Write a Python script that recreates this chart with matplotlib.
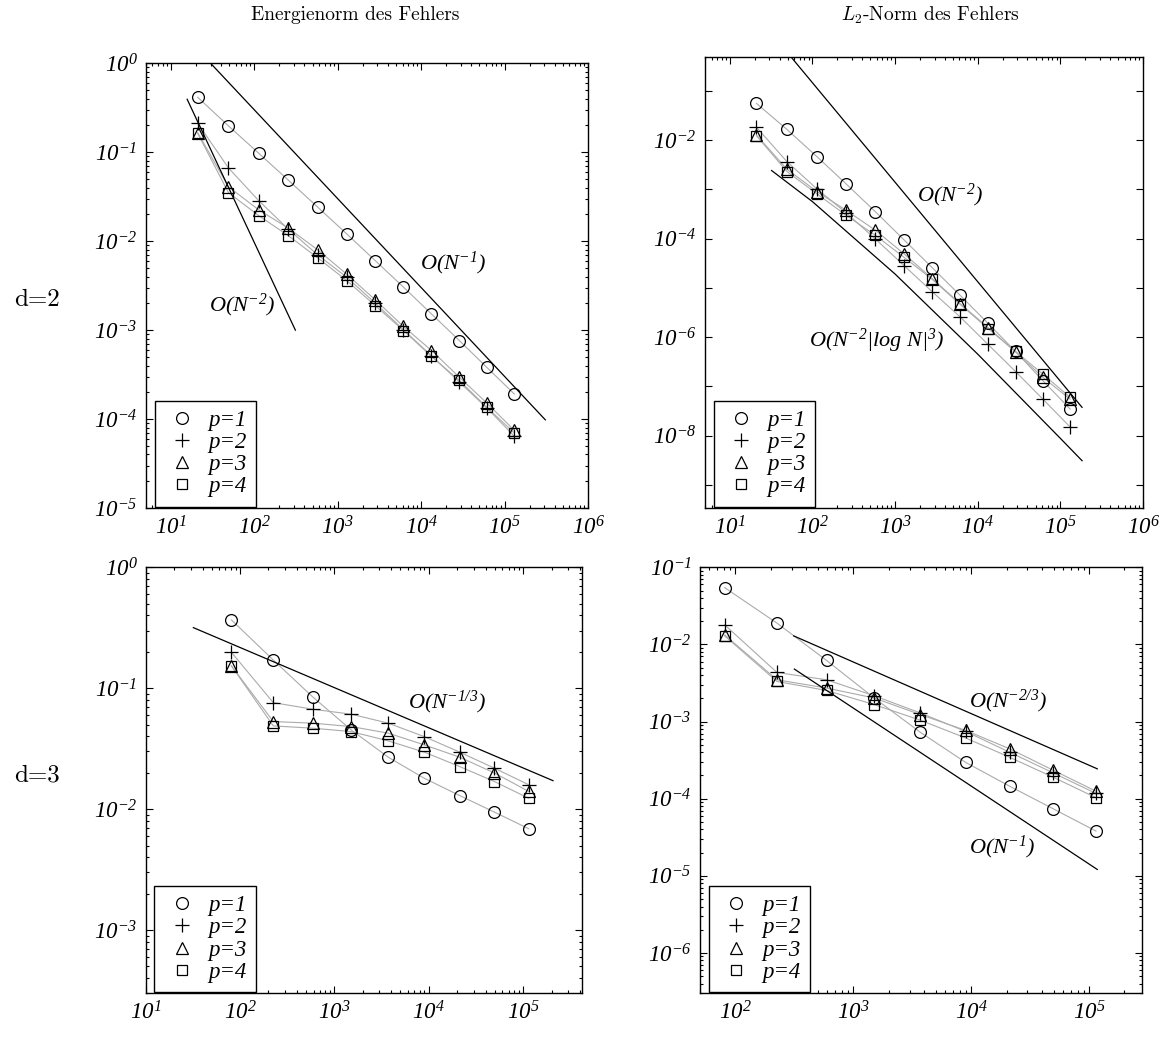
import matplotlib
matplotlib.use("Agg")
import matplotlib.pyplot as plt
from matplotlib.lines import Line2D
from matplotlib.ticker import LogLocator, FuncFormatter, NullFormatter, NullLocator
import numpy as np

plt.rcParams['font.family'] = 'Liberation Serif'
plt.rcParams['mathtext.fontset'] = 'custom'
plt.rcParams['mathtext.rm'] = 'Liberation Serif:italic'
plt.rcParams['mathtext.it'] = 'Liberation Serif:italic'
plt.rcParams['mathtext.bf'] = 'Liberation Serif:italic:bold'

# Anzahl der Freiheitsgrade N
N_d2 = [21, 49, 113, 257, 577, 1281, 2817, 6145, 13313, 28673, 61441, 131073]
N_d3 = [81, 225, 593, 1505, 3713, 8961, 21249, 49665, 114689]

# d=2, Energienorm
en2_p1 = [0.415, 0.198, 0.0975, 0.0484, 0.0241, 0.0121, 6.05e-3, 3.04e-3, 1.52e-3, 7.64e-4, 3.80e-4, 1.91e-4]
en2_p2 = [0.212, 0.0667, 0.0286, 0.0136, 7.0e-3, 3.94e-3, 2.01e-3, 1.01e-3, 5.14e-4, 2.61e-4, 1.33e-4, 6.4e-5]
en2_p3 = [0.166, 0.041, 0.0225, 0.014, 7.98e-3, 4.26e-3, 2.19e-3, 1.10e-3, 5.9e-4, 2.96e-4, 1.51e-4, 7.45e-5]
en2_p4 = [0.163, 0.0352, 0.0194, 0.0115, 6.49e-3, 3.61e-3, 1.89e-3, 9.9e-4, 5.06e-4, 2.72e-4, 1.35e-4, 6.97e-5]

# d=2, L2-Norm
l2_2_p1 = [0.0552, 0.0164, 4.6e-3, 1.27e-3, 3.5e-4, 9.4e-5, 2.55e-5, 7.0e-6, 1.9e-6, 5.1e-7, 1.3e-7, 3.47e-8]
l2_2_p2 = [0.0181, 3.64e-3, 1.02e-3, 3.29e-4, 9.8e-5, 2.83e-5, 8.3e-6, 2.55e-6, 7.1e-7, 2.0e-7, 5.5e-8, 1.5e-8]
l2_2_p3 = [0.0126, 2.55e-3, 9.0e-4, 3.72e-4, 1.47e-4, 4.9e-5, 1.53e-5, 4.76e-6, 1.56e-6, 5.0e-7, 1.52e-7, 5.5e-8]
l2_2_p4 = [0.0122, 2.29e-3, 8.1e-4, 2.94e-4, 1.16e-4, 4.17e-5, 1.48e-5, 4.6e-6, 1.49e-6, 5.1e-7, 1.77e-7, 6.0e-8]

# d=3, Energienorm
en3_p1 = [0.367, 0.171, 0.0843, 0.0452, 0.0269, 0.0180, 0.01295, 9.44e-3, 6.88e-3]
en3_p2 = [0.198, 0.076, 0.067, 0.061, 0.0514, 0.0398, 0.0296, 0.0218, 0.0159]
en3_p3 = [0.153, 0.053, 0.0514, 0.0482, 0.0425, 0.034, 0.0269, 0.0199, 0.014]
en3_p4 = [0.153, 0.0488, 0.0467, 0.0438, 0.0367, 0.0296, 0.0225, 0.0169, 0.0123]

# d=3, L2-Norm
l2_3_p1 = [0.0545, 0.0189, 6.2e-3, 2.02e-3, 7.24e-4, 2.96e-4, 1.45e-4, 7.4e-5, 3.8e-5]
l2_3_p2 = [0.01795, 4.33e-3, 3.48e-3, 2.16e-3, 1.29e-3, 7.46e-4, 4.0e-4, 2.16e-4, 1.17e-4]
l2_3_p3 = [0.0133, 3.48e-3, 2.72e-3, 2.02e-3, 1.23e-3, 7.69e-4, 4.43e-4, 2.34e-4, 1.25e-4]
l2_3_p4 = [0.0129, 3.31e-3, 2.53e-3, 1.66e-3, 1.04e-3, 6.14e-4, 3.44e-4, 1.9e-4, 1.03e-4]

ref_en2_a_x, ref_en2_a_y = [30, 3.08e5], [1.0, 9.8e-5]
ref_en2_b_x, ref_en2_b_y = [15.7, 311], [0.394, 1.0e-3]
ref_l2_2_a_x, ref_l2_2_a_y = [55, 1.83e5], [0.484, 3.75e-8]
ref_l2_2_b_x = [32, 100, 1000, 1e4, 1e5, 1.83e5]
ref_l2_2_b_y = [2.4e-3, 5.6e-4, 1.9e-5, 4.5e-7, 8.8e-9, 3.1e-9]
ref_en3_x, ref_en3_y = [32, 2.07e5], [0.317, 0.0172]
ref_l2_3_a_x, ref_l2_3_a_y = [312, 1.175e5], [0.0129, 2.44e-4]
ref_l2_3_b_x, ref_l2_3_b_y = [316, 1.175e5], [4.79e-3, 1.21e-5]

labels = ['p=1', 'p=2', 'p=3', 'p=4']
markers = ['o', '+', '^', 's']
msizes = [8.5, 10, 8.5, 7]

W, H = 1166, 1055
fig = plt.figure(figsize=(W / 100, H / 100), dpi=100)


def px_axes(left, top, right, bottom):
    return fig.add_axes([left / W, 1 - bottom / H, (right - left) / W, (bottom - top) / H])


def fmt_all(v, pos):
    return r'10$^{%d}$' % round(np.log10(v))


def fmt_even(v, pos):
    e = round(np.log10(v))
    return r'10$^{%d}$' % e if e % 2 == 0 else ''


def setup(ax, xlim, ylim, yminor=True, even=False):
    ax.set_xscale('log')
    ax.set_yscale('log')
    ax.set_xlim(*xlim)
    ax.set_ylim(*ylim)
    ax.xaxis.set_major_locator(LogLocator(base=10, numticks=20))
    ax.xaxis.set_minor_locator(LogLocator(base=10, subs=np.arange(2, 10), numticks=20))
    ax.xaxis.set_major_formatter(FuncFormatter(fmt_all))
    ax.xaxis.set_minor_formatter(NullFormatter())
    ax.yaxis.set_major_locator(LogLocator(base=10, numticks=20))
    if yminor:
        ax.yaxis.set_minor_locator(LogLocator(base=10, subs=np.arange(2, 10), numticks=20))
    else:
        ax.yaxis.set_minor_locator(NullLocator())
    ax.yaxis.set_major_formatter(FuncFormatter(fmt_even if even else fmt_all))
    ax.yaxis.set_minor_formatter(NullFormatter())
    ax.tick_params(which='both', direction='in', top=True, right=True, width=0.8)
    ax.tick_params(which='major', length=5, labelsize=16.5, pad=6)
    ax.tick_params(which='minor', length=2.5)
    for lab in ax.get_xticklabels() + ax.get_yticklabels():
        lab.set_fontstyle('italic')
    for s in ax.spines.values():
        s.set_linewidth(1.0)


def draw(ax, N, series):
    for y, m, ms in zip(series, markers, msizes):
        ax.plot(N, y, color='#ababab', lw=0.8, zorder=1)
        ax.plot(N, y, ls='none', marker=m, ms=ms, mfc='none', mec='k', mew=0.9, zorder=3)
    handles = [Line2D([], [], ls='none', marker=m, ms=ms, mfc='none', mec='k', mew=0.9)
               for m, ms in zip(markers, msizes)]
    leg = ax.legend(handles, labels, loc='lower left', bbox_to_anchor=(0.02, 0.003),
                    borderaxespad=0, fancybox=False, framealpha=1, edgecolor='k',
                    prop={'family': 'Liberation Serif', 'style': 'italic', 'size': 16.5},
                    labelspacing=0.05, handletextpad=0.35, handlelength=1.6, borderpad=0.4)
    leg.get_frame().set_linewidth(1.0)


ref_kw = dict(color='k', lw=0.9, zorder=2)
txt_kw = dict(fontsize=16, style='italic', ha='center', va='center')

# oben links
ax1 = px_axes(145.7, 63.3, 588, 508)
setup(ax1, (5, 1e6), (1e-5, 1))
draw(ax1, N_d2, [en2_p1, en2_p2, en2_p3, en2_p4])
ax1.plot(ref_en2_a_x, ref_en2_a_y, **ref_kw)
ax1.plot(ref_en2_b_x, ref_en2_b_y, **ref_kw)
ax1.text(2.38e4, 5.7e-3, r'O(N$^{-1}$)', **txt_kw)
ax1.text(70.8, 1.92e-3, r'O(N$^{-2}$)', **txt_kw)

# oben rechts
ax2 = px_axes(705, 56.7, 1143, 508)
setup(ax2, (5, 1e6), (3.4e-10, 0.49), yminor=False, even=True)
draw(ax2, N_d2, [l2_2_p1, l2_2_p2, l2_2_p3, l2_2_p4])
ax2.plot(ref_l2_2_a_x, ref_l2_2_a_y, **ref_kw)
ax2.plot(ref_l2_2_b_x, ref_l2_2_b_y, **ref_kw)
ax2.text(4580, 7.4e-4, r'O(N$^{-2}$)', **txt_kw)
ax2.text(598, 8.3e-7, r'O(N$^{-2}$|log N|$^{3}$)', **txt_kw)

# unten links
ax3 = px_axes(145.7, 567.3, 582, 993.3)
setup(ax3, (10, 4.2e5), (3e-4, 1))
draw(ax3, N_d3, [en3_p1, en3_p2, en3_p3, en3_p4])
ax3.plot(ref_en3_x, ref_en3_y, **ref_kw)
ax3.text(1.556e4, 0.076, r'O(N$^{-1/3}$)', **txt_kw)

# unten rechts
ax4 = px_axes(700, 567.3, 1141.7, 993.3)
setup(ax4, (50, 2.8e5), (3e-7, 0.1))
draw(ax4, N_d3, [l2_3_p1, l2_3_p2, l2_3_p3, l2_3_p4])
ax4.plot(ref_l2_3_a_x, ref_l2_3_a_y, **ref_kw)
ax4.plot(ref_l2_3_b_x, ref_l2_3_b_y, **ref_kw)
ax4.text(2.07e4, 1.82e-3, r'O(N$^{-2/3}$)', **txt_kw)
ax4.text(1.82e4, 2.32e-5, r'O(N$^{-1}$)', **txt_kw)

# Spalten- und Zeilenbeschriftung
fig.text(355 / W, 1 - 15 / H, 'Energienorm des Fehlers', family='cmr10', fontsize=14,
         ha='center', va='center')
fig.text(930 / W, 1 - 15 / H, r'$L_2$-Norm des Fehlers', family='cmr10', math_fontfamily='cm',
         fontsize=14, ha='center', va='center')
fig.text(37 / W, 1 - 300 / H, 'd=2', family='cmr10', fontsize=18, ha='center', va='center')
fig.text(37 / W, 1 - 775 / H, 'd=3', family='cmr10', fontsize=18, ha='center', va='center')

fig.savefig('out.png', dpi=100)
